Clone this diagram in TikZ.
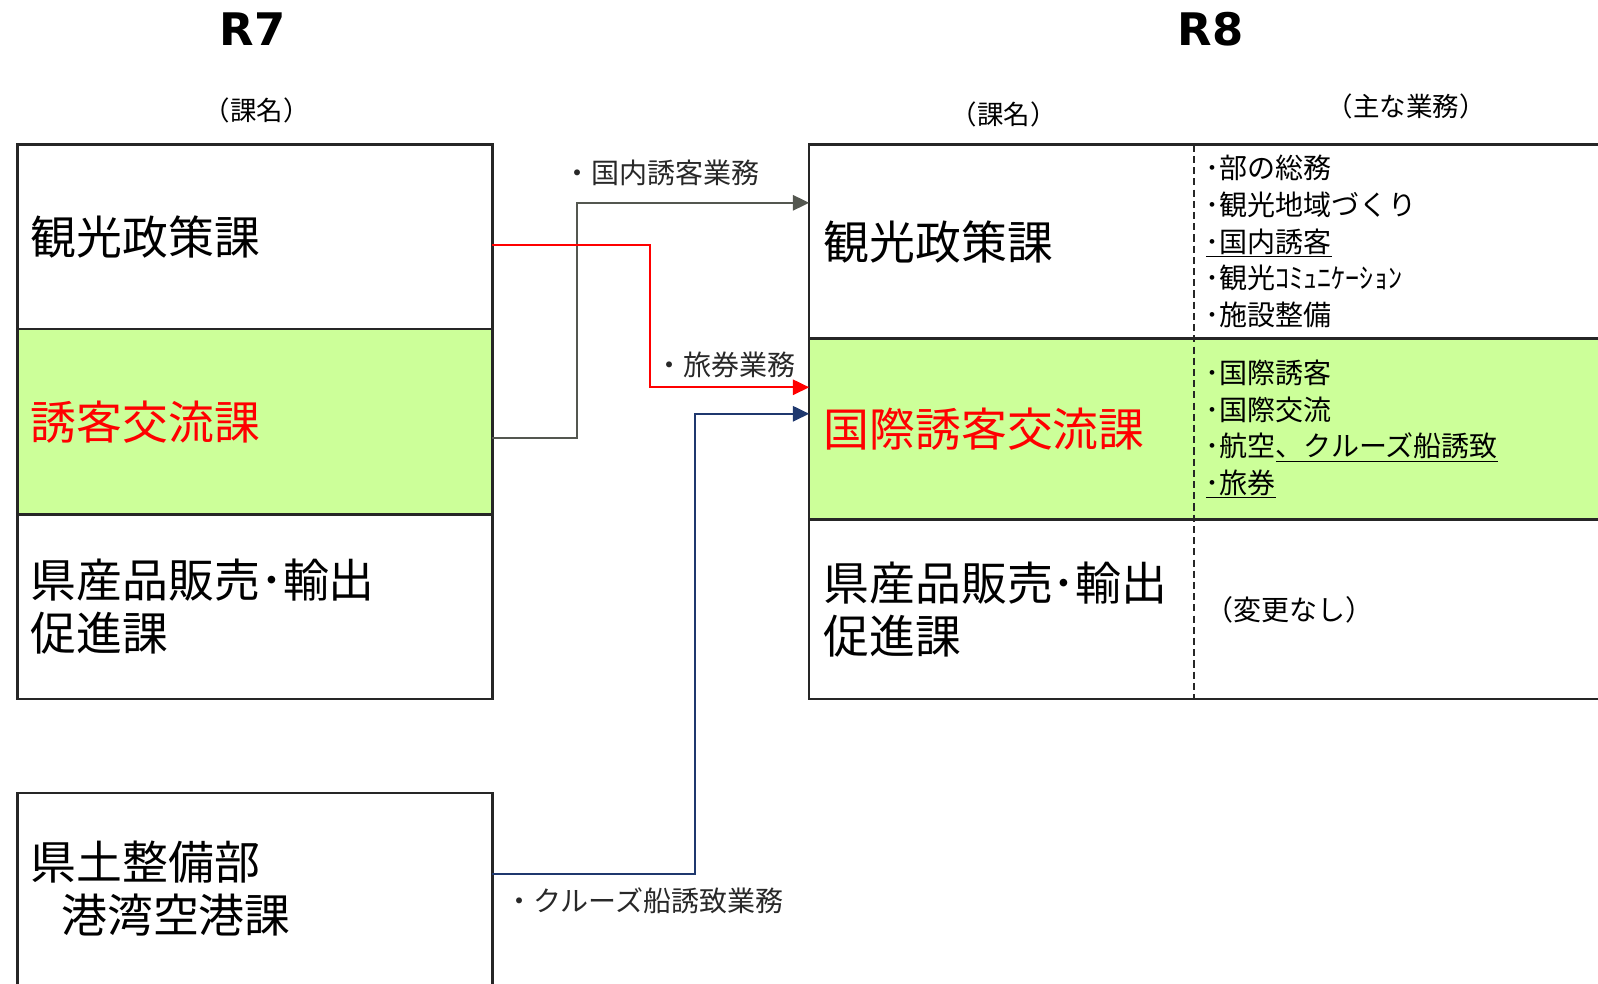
\documentclass[tikz,border=0pt]{standalone}
\usepackage{fontspec}
\setmainfont{Noto Sans CJK JP}
\newfontfamily\rfont{DejaVu Sans}
\usepackage{xcolor}
\usetikzlibrary{positioning,arrows.meta}
\definecolor{kagreen}{RGB}{204,255,153}
\definecolor{kared}{RGB}{255,0,0}
\definecolor{kagray}{RGB}{84,87,80}
\definecolor{kanavy}{RGB}{31,56,110}
\definecolor{kaline}{RGB}{38,38,38}
\definecolor{katext}{RGB}{40,40,40}

\tikzset{
	kabox/.style={draw=kaline, rectangle, line width=2.5pt, outer sep=0pt, inner sep=0pt, minimum width=466pt},
	kaname/.style={anchor=west, align=left, inner sep=0pt, font=\fontsize{45}{52}\selectfont},
	gyomu/.style={anchor=west, align=left, inner sep=0pt, font=\fontsize{27.5}{36}\selectfont},
	kahead/.style={inner sep=0pt, font=\fontsize{26}{30}\selectfont},
	kanendo/.style={inner sep=0pt, font=\rfont\bfseries\fontsize{44}{50}\selectfont},
	idou/.style={->, >={Triangle[length=16pt, width=15pt]}, line width=2pt},
	idoulabel/.style={anchor=west, inner sep=0pt, text=katext, font=\fontsize{27.5}{30}\selectfont}
}

\begin{document}
\begin{tikzpicture}[x=1pt, y=-1pt]
	\useasboundingbox (0,0) rectangle (1568,964.6);
	
	% R7
	\node[kanendo] (r7) at (248,29) {R7};
	\node[kahead] at (252,108) {（課名）};
	\node[kabox, minimum height=181pt, anchor=north west] (kanko7) at (17,142) {};
	\node[kabox, minimum height=182pt, fill=kagreen, below=0pt of kanko7] (yuukyaku7) {};
	\node[kabox, minimum height=181pt, below=0pt of yuukyaku7] (ken7) {};
	\node[kabox, minimum height=240pt, anchor=north west] (kowan7) at (17,778) {};
	
	\node[kaname] at ([xshift=13pt]kanko7.west) {観光政策課};
	\node[kaname, text=kared] at ([xshift=13pt]yuukyaku7.west) {誘客交流課};
	\node[kaname] at ([xshift=13pt]ken7.west) {県産品販売･輸出\\促進課};
	\node[kaname] at ([xshift=13pt, yshift=-94pt]kowan7.north west) {県土整備部\\\hspace*{30pt}港湾空港課};
	
	% R8
	\node[kanendo] (r8) at (1188,29) {R8};
	\node[kahead] at (985,112) {（課名）};
	\node[kahead] at (1380,104) {（主な業務）};
	\node[kabox, minimum width=830pt, minimum height=190pt, anchor=north west] (kanko8) at (794,142) {};
	\node[kabox, minimum width=830pt, minimum height=178pt, fill=kagreen, below=0pt of kanko8] (kokusai8) {};
	\node[kabox, minimum width=830pt, minimum height=176pt, below=0pt of kokusai8] (ken8) {};
	\draw[kaline, line width=2pt, dash pattern=on 7pt off 4pt] ([xshift=378pt]kanko8.north west) -- ([xshift=378pt]ken8.south west);
	
	\node[kaname] at ([xshift=14pt]kanko8.west) {観光政策課};
	\node[kaname, text=kared] at ([xshift=14pt]kokusai8.west) {国際誘客交流課};
	\node[kaname] at ([xshift=14pt]ken8.west) {県産品販売･輸出\\促進課};
	
	\node[gyomu] (gyomu1) at ([xshift=389pt]kanko8.west) {･部の総務\\･観光地域づくり\\\underline{･国内誘客}\\･観光ｺﾐｭﾆｹｰｼｮﾝ\\･施設整備};
	\node[gyomu] (gyomu2) at ([xshift=389pt]kokusai8.west) {･国際誘客\\･国際交流\\･航空\underline{、クルーズ船誘致}\\\underline{･旅券}};
	\node[gyomu] (gyomu3) at ([xshift=389pt]ken8.west) {（変更なし）};
	
	% arrows
	\draw[idou, kagray] ([yshift=-16pt]yuukyaku7.east) -- ++(83,0) |- ([yshift=38pt]kanko8.west);
	\draw[idou, kared] ([yshift=-8pt]kanko7.east) -- ++(155,0) |- ([yshift=41pt]kokusai8.west);
	\draw[idou, kanavy] ([yshift=40pt]kowan7.east) -- ++(199,0) |- ([yshift=15pt]kokusai8.west);
	
	\node[idoulabel] at (553,170) {・国内誘客業務};
	\node[idoulabel] at (643,358) {・旅券業務};
	\node[idoulabel] at (496,884) {・クルーズ船誘致業務};
\end{tikzpicture}
\end{document}
